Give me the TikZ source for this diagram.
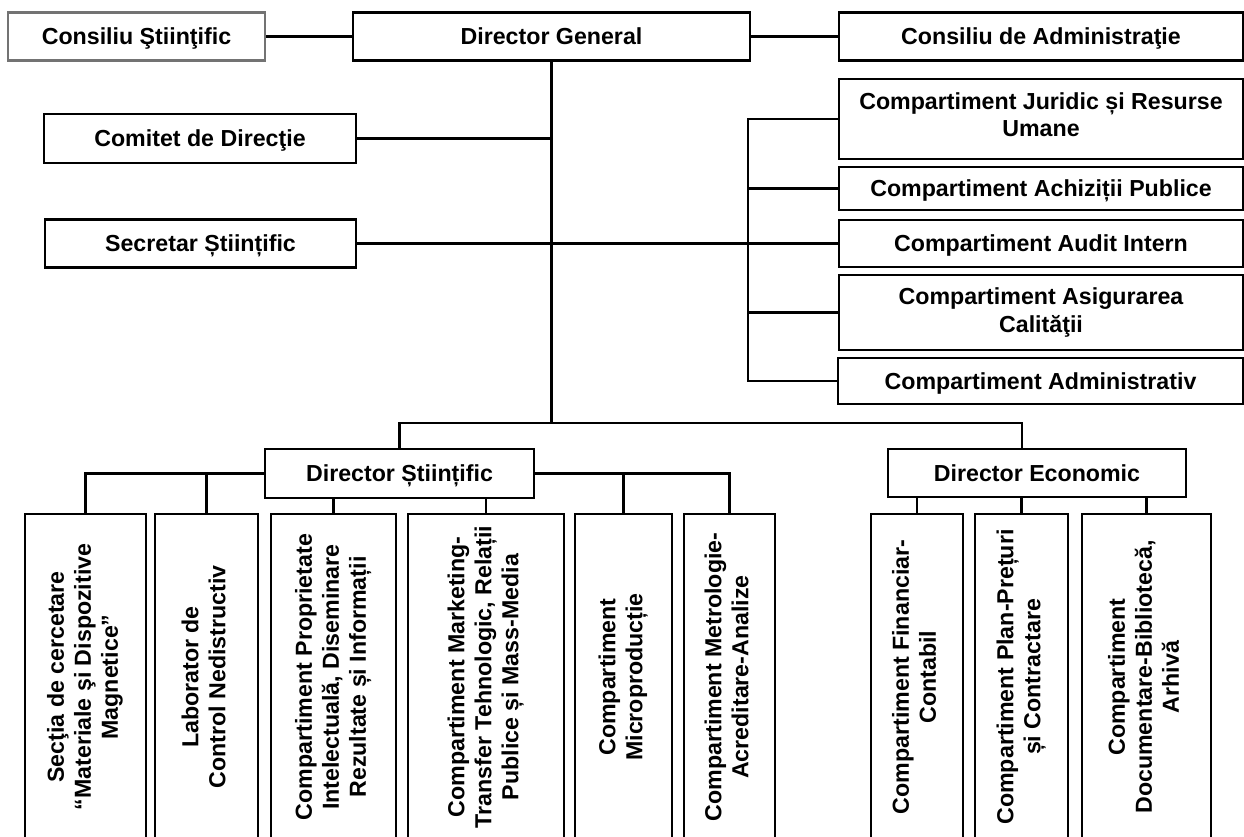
\documentclass[tikz,border=0pt]{standalone}
\usepackage{fontspec}
\setmainfont{Liberation Sans}
\usepackage{graphicx,xcolor}
\usepackage{tikz}

\begin{document}
\begin{tikzpicture}[x = 0.02cm, y = -0.02cm]
	\tikzstyle{every node} = [rectangle, draw = black, line width = 1.2pt, inner sep = 0pt, align = center, font = \bfseries\fontsize{13.2}{15.4}\selectfont]
	\tikzstyle{hbox} = [text height = 9.5pt, text depth = 0pt]
	\tikzstyle{vbox} = [minimum height = 6.52cm]
	\useasboundingbox (0, 0) rectangle (1244, 837);
	\clip (0, 0) rectangle (1244, 837);
\node[hbox, draw = black!55, minimum width = 5.14cm, minimum height = 0.96cm] (0) at (136.5, 36.5) {Consiliu Ştiinţific};
\node[hbox, minimum width = 7.94cm, minimum height = 0.96cm] (1) at (551.5, 36.5) {Director General};
\node[hbox, minimum width = 8.08cm, minimum height = 0.96cm] (2) at (1041, 36.5) {Consiliu de Administraţie};
\node[hbox, minimum width = 6.24cm, minimum height = 0.98cm] (3) at (200, 138.5) {Comitet de Direcţie};
\node[hbox, minimum width = 6.22cm, minimum height = 0.96cm] (4) at (200.5, 243.5) {Secretar Științific};
\node[text depth = 0.16cm, minimum width = 8.08cm, minimum height = 1.6cm] (5) at (1041, 119) {Compartiment Juridic și Resurse\\Umane};
\node[hbox, minimum width = 8.08cm, minimum height = 0.86cm] (6) at (1041, 188.5) {Compartiment Achiziții Publice};
\node[hbox, minimum width = 8.08cm, minimum height = 0.94cm] (7) at (1041, 243.5) {Compartiment Audit Intern};
\node[minimum width = 8.08cm, minimum height = 1.5cm] (8) at (1041, 312.5) {Compartiment Asigurarea\\Calităţii};
\node[hbox, minimum width = 8.1cm, minimum height = 0.92cm] (9) at (1040.5, 381) {Compartiment Administrativ};
\node[hbox, minimum width = 5.38cm, minimum height = 0.98cm] (10) at (399.5, 473.5) {Director Științific};
\node[hbox, minimum width = 5.96cm, minimum height = 0.96cm] (11) at (1037, 473) {Director Economic};
\node[vbox, minimum width = 2.42cm] (12) at (85.5, 677) {\rotatebox{90}{\begin{tabular}{@{}c@{}}Secţia de cercetare\\“Materiale şi Dispozitive\\Magnetice”\end{tabular}}};
\node[vbox, minimum width = 2.06cm] (13) at (206.5, 677) {\rotatebox{90}{\begin{tabular}{@{}c@{}}Laborator de\\Control Nedistructiv\end{tabular}}};
\node[vbox, minimum width = 2.5cm] (14) at (333.5, 677) {\rotatebox{90}{\begin{tabular}{@{}c@{}}Compartiment Proprietate\\Intelectuală, Diseminare\\Rezultate și Informații\end{tabular}}};
\node[vbox, minimum width = 3.12cm] (15) at (486, 677) {\rotatebox{90}{\begin{tabular}{@{}c@{}}Compartiment Marketing-\\Transfer Tehnologic, Relații\\Publice și Mass-Media\end{tabular}}};
\node[vbox, minimum width = 1.94cm] (16) at (623.5, 677) {\rotatebox{90}{\begin{tabular}{@{}c@{}}Compartiment\\Microproducție\end{tabular}}};
\node[vbox, minimum width = 1.82cm] (17) at (729.5, 677) {\rotatebox{90}{\begin{tabular}{@{}c@{}}Compartiment Metrologie-\\Acreditare-Analize\end{tabular}}};
\node[vbox, minimum width = 1.84cm] (18) at (917, 677) {\rotatebox{90}{\begin{tabular}{@{}c@{}}Compartiment Financiar-\\Contabil\end{tabular}}};
\node[vbox, minimum width = 1.86cm] (19) at (1021.5, 677) {\rotatebox{90}{\begin{tabular}{@{}c@{}}Compartiment Plan-Prețuri\\și Contractare\end{tabular}}};
\node[vbox, minimum width = 2.58cm] (20) at (1146.5, 677) {\rotatebox{90}{\begin{tabular}{@{}c@{}}Compartiment\\Documentare-Bibliotecă,\\Arhivă\end{tabular}}};
\coordinate (21) at (551.5, 423);
\coordinate (22) at (748, 0);
	\path[draw, line width = 1.2pt] (0) -- (1);
	\path[draw, line width = 1.2pt] (1) -- (2);
	\path[draw, line width = 1.2pt] (1) -- (21);
	\path[draw, line width = 1.2pt] (3.east) -- (3.east -| 1.south);
	\path[draw, line width = 1.2pt] (4) -- (7);
	\path[draw, line width = 1.2pt] (5.west) -- (5.west -| 22) |- (9.west);
	\path[draw, line width = 1.2pt] (6.west) -- (6.west -| 22);
	\path[draw, line width = 1.2pt] (8.west) -- (8.west -| 22);
	\path[draw, line width = 1.2pt] (10.north) |- (21) -| ([xshift = -0.3cm]11.north);
	\path[draw, line width = 1.2pt] (10.west) -| (12.north);
	\path[draw, line width = 1.2pt] (10.west) -| (13.north);
	\path[draw, line width = 1.2pt] (14.north) -- (14.north |- 10.south);
	\path[draw, line width = 1.2pt] (15.north) -- (15.north |- 10.south);
	\path[draw, line width = 1.2pt] (10.east) -| (16.north);
	\path[draw, line width = 1.2pt] (10.east) -| (17.north);
	\path[draw, line width = 1.2pt] (18.north) -- (18.north |- 11.south);
	\path[draw, line width = 1.2pt] (19.north) -- (19.north |- 11.south);
	\path[draw, line width = 1.2pt] (20.north) -- (20.north |- 11.south);
	\end{tikzpicture}
\end{document}
